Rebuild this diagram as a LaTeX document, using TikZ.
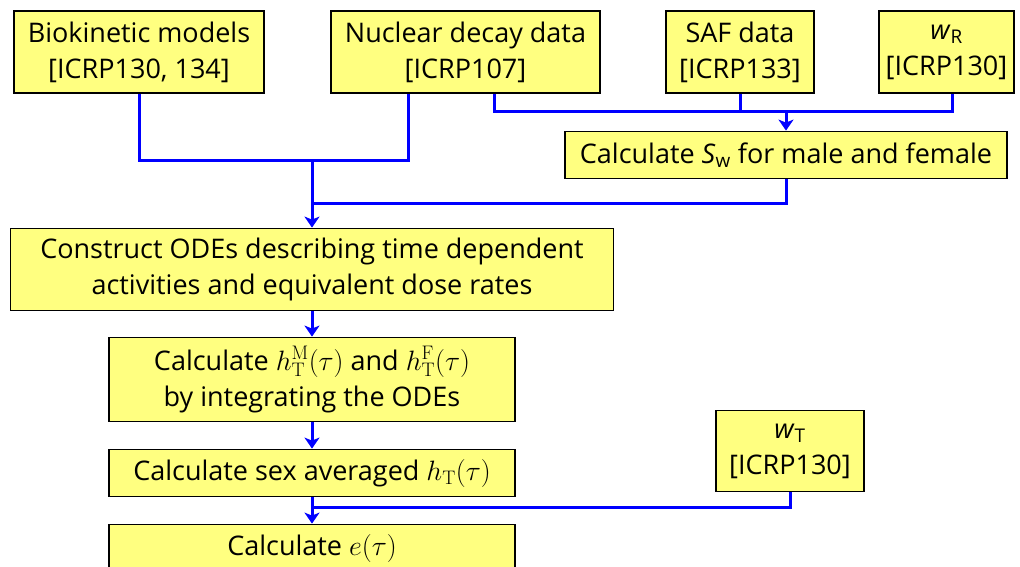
\RequirePackage{fix-cm}
\documentclass[tikz,border=0pt]{standalone}
\usepackage[no-math]{fontspec}
\setmainfont{Open Sans}
\usetikzlibrary{arrows.meta}
\definecolor{boxfill}{RGB}{255,255,128}
\definecolor{linkblue}{RGB}{0,0,255}
% math in the boxes is set a little larger than the sans text
\newcommand{\bm}[1]{{\fontsize{28}{36}\selectfont$#1$}}
\tikzset{
  box/.style={draw=black, line width=1.8pt, fill=boxfill, inner sep=0pt,
    align=center, font=\fontsize{27}{36}\selectfont},
  tall/.style={box, minimum height=82pt},
  flat/.style={box, minimum height=47pt},
  link/.style={draw=linkblue, line width=3pt},
  arr/.style={link, -{Stealth[length=11pt,width=15pt,inset=3pt]}},
}
\begin{document}
\begin{tikzpicture}[x=1pt,y=-1pt]
\clip (0,0) rectangle (1020,566);
\useasboundingbox (0,0) rectangle (1020,566);

% sources
\node[tall, minimum width=250pt] (bio) at (139,52) {Biokinetic models\\{}[ICRP130, 134]};
\node[tall, minimum width=269pt] (nuc) at (465.5,52) {Nuclear decay data\\{}[ICRP107]};
\node[tall, minimum width=148pt] (saf) at (740,52) {SAF data\\{}[ICRP133]};
\node[tall, minimum width=135pt] (wr) at (946.5,52) {\textit{w}\textsubscript{R}\\{}[ICRP130]};

% processing steps
\node[flat, minimum width=442pt] (sw) at (786,155) {Calculate \textit{S}\textsubscript{w} for male and female};
\node[tall, minimum width=603pt] (ode) at (312,269.5) {Construct ODEs describing time dependent\\activities and equivalent dose rates};
\node[tall, minimum width=406pt, minimum height=84pt] (hbox) at (312,379.5) {Calculate \bm{h_{\mathrm{T}}^{\mathrm{M}}(\tau)} and \bm{h_{\mathrm{T}}^{\mathrm{F}}(\tau)}\\by integrating the ODEs};
\node[flat, minimum width=406pt] (avg) at (312,473) {Calculate sex averaged \bm{h_{\mathrm{T}}(\tau)}};
\node[tall, minimum width=148pt, minimum height=81pt] (wt) at (790,451) {\textit{w}\textsubscript{T}\\{}[ICRP130]};
\node[flat, minimum width=406pt] (eb) at (312,548) {Calculate \bm{e(\tau)}};

% junction points
\coordinate (j1) at (312,160);
\coordinate (j2) at (312,203);
\coordinate (j3) at (786,111);
\coordinate (j4) at (312,507);

% connectors
\draw[link] (bio.south) |- (j1) -| ([xshift=-57.5pt]nuc.south);
\draw[link] (sw.south) |- (j2);
\draw[arr] (j1) -- (ode.north);
\draw[link] ([xshift=28.5pt]nuc.south) |- (j3) -| ([xshift=6pt]wr.south);
\draw[link] (saf.south) -- (saf.south |- j3);
\draw[arr] (j3) -- (sw.north);
\draw[arr] (ode.south) -- (hbox.north);
\draw[arr] (hbox.south) -- (avg.north);
\draw[link] (wt.south) |- (j4);
\draw[arr] (avg.south) -- (eb.north);
\end{tikzpicture}
\end{document}
